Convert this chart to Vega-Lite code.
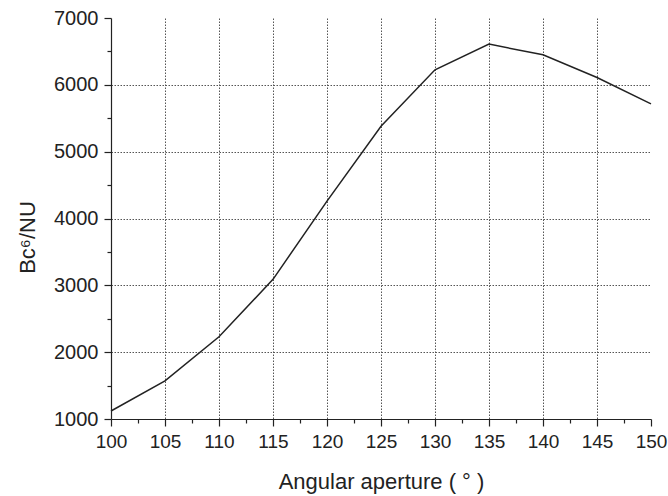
{
  "$schema": "https://vega.github.io/schema/vega-lite/v6.json",
  "width": 540,
  "height": 401,
  "autosize": {"type": "none"},
  "padding": {"left": 111, "top": 18, "right": 17, "bottom": 77},
  "background": "white",
  "config": {
    "view": {"stroke": null},
    "font": "Liberation Sans",
    "axis": {"labelFont": "Liberation Sans", "titleFont": "Liberation Sans", "labelColor": "#222", "titleColor": "#222", "titleFontWeight": "normal"}
  },
  "data": {"values": [
    {"angle": 100, "value": 1120},
    {"angle": 105, "value": 1570},
    {"angle": 110, "value": 2230},
    {"angle": 115, "value": 3090},
    {"angle": 120, "value": 4260},
    {"angle": 125, "value": 5380},
    {"angle": 130, "value": 6225},
    {"angle": 135, "value": 6609},
    {"angle": 140, "value": 6449},
    {"angle": 145, "value": 6109},
    {"angle": 150, "value": 5716}
  ]},
  "resolve": {"axis": {"x": "independent", "y": "independent"}},
  "layer": [
    {
      "mark": {"type": "line", "color": "#222", "strokeWidth": 1.5},
      "encoding": {
        "x": {"field": "angle", "type": "quantitative", "scale": {"domain": [100, 150], "nice": false, "zero": false},
          "axis": {"orient": "bottom", "values": [100,105,110,115,120,125,130,135,140,145,150], "title": "Angular aperture ( ° )",
            "labelFontSize": 19, "titleFontSize": 22, "labelPadding": 6, "tickSize": 7, "tickColor": "#222", "domainColor": "#222", "domainWidth": 1.2, "tickWidth": 1.2,
            "grid": true, "gridColor": "#555", "gridDash": [1.5, 1.5], "gridWidth": 1,
            "gridOpacity": {"condition": {"test": "datum.value == 100 || datum.value == 150", "value": 0}, "value": 1},
            "titleBaseline": "alphabetic", "titleY": 69, "labelFlush": false}},
        "y": {"field": "value", "type": "quantitative", "scale": {"domain": [1000, 7000], "nice": false, "zero": false},
          "axis": {"orient": "left", "values": [1000,2000,3000,4000,5000,6000,7000], "format": "d", "title": "Bc⁶/NU",
            "labelFontSize": 20, "titleFontSize": 22, "labelPadding": 6, "tickSize": 7, "tickColor": "#222", "domainColor": "#222", "domainWidth": 1.2, "tickWidth": 1.2,
            "grid": true, "gridColor": "#555", "gridDash": [1.5, 1.5], "gridWidth": 1,
            "gridOpacity": {"condition": {"test": "datum.value == 1000 || datum.value == 7000", "value": 0}, "value": 1},
            "titleAngle": -90, "titleAlign": "center", "titleBaseline": "middle", "titleX": -84, "titleY": 219, "labelFlush": false}}
      }
    },
    {
      "mark": {"type": "line", "opacity": 0},
      "encoding": {
        "x": {"field": "angle", "type": "quantitative", "scale": {"domain": [100, 150], "nice": false, "zero": false},
          "axis": {"orient": "bottom", "values": [102.5,107.5,112.5,117.5,122.5,127.5,132.5,137.5,142.5,147.5], "labels": false, "title": null, "domain": false, "grid": false, "tickSize": 4, "tickColor": "#222", "tickWidth": 1.2}},
        "y": {"field": "value", "type": "quantitative", "scale": {"domain": [1000, 7000], "nice": false, "zero": false},
          "axis": {"orient": "left", "values": [1500,2500,3500,4500,5500,6500], "labels": false, "title": null, "domain": false, "grid": false, "tickSize": 4, "tickColor": "#222", "tickWidth": 1.2}}
      }
    }
  ]
}
